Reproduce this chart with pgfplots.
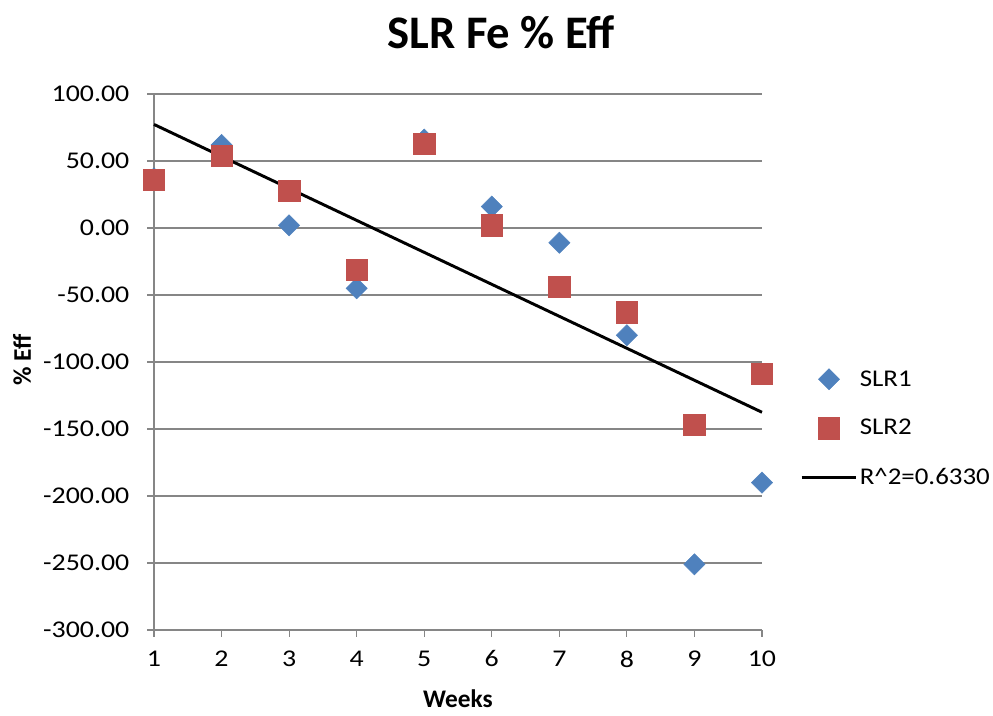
\documentclass[border=0pt]{standalone}
\usepackage{pgfplots}
\pgfplotsset{compat=1.18}
\usepackage{fontspec}
\setmainfont{Carlito}
\newfontfamily\wide[FakeStretch=1.16]{Carlito}
\newfontfamily\wider[FakeStretch=1.12]{Carlito}
\definecolor{sblue}{HTML}{4F81BD}
\definecolor{sred}{HTML}{C0504D}
\definecolor{gridgray}{HTML}{868686}
\pgfplotsset{
  markleg/.style={legend image code/.code={\draw[##1] plot coordinates {(20.5pt,0pt)};}},
  lineleg/.style={legend image code/.code={\draw[##1] (0pt,0pt) -- (41pt,0pt);}},
}
\begin{document}
\begin{tikzpicture}
\path[use as bounding box] (-115.5pt,-63.75pt) rectangle (629.25pt,472.5pt);
\begin{axis}[
  scale only axis, width=456pt, height=402pt,
  xmin=1, xmax=10, ymin=-300, ymax=100,
  xtick={1,...,10}, ytick={-300,-250,...,100},
  axis x line*=bottom, axis y line*=left,
  axis line style={gridgray, line width=1pt, -},
  ymajorgrids, major grid style={gridgray, line width=1pt},
  tick align=outside, major tick length=5pt,
  tick style={gridgray, line width=0.8pt},
  clip=false,
  /pgf/number format/assume math mode=true,
  ticklabel style={font=\wide\fontsize{18}{20}\selectfont},
  xticklabel style={yshift=-7pt},
  yticklabel style={xshift=-10pt, /pgf/number format/.cd, fixed, fixed zerofill, precision=2},
  title={\textbf{SLR Fe \% Eff}},
  title style={at={(0.571,1.1)}, anchor=center, font=\fontsize{35}{40}\selectfont},
  xlabel={\textbf{Weeks}},
  xlabel style={at={(0.5,-0.128)}, anchor=center, font=\fontsize{19}{22}\selectfont},
  ylabel={\textbf{\% Eff}},
  ylabel style={at={(-0.217,0.504)}, anchor=center, font=\fontsize{19}{22}\selectfont},
  legend style={at={(1.0625,0.376)}, anchor=west, draw=none, fill=none,
    font=\wider\fontsize{18}{20}\selectfont, row sep=20.5pt, inner sep=0pt,
    nodes={inner sep=1.5pt}},
  legend cell align=left,
]
\addplot[only marks, mark=square*, mark size=5.6pt, mark options={rotate=45, fill=sblue, draw=sblue}, markleg]
  coordinates {(1,37) (2,62) (3,2) (4,-45) (5,66) (6,16) (7,-11) (8,-80) (9,-251) (10,-190)};
\addlegendentry{SLR1}
\addplot[only marks, mark=square*, mark size=8pt, mark options={fill=sred, draw=sred}, markleg]
  coordinates {(1,36) (2,54) (3,28) (4,-31) (5,63) (6,2) (7,-44) (8,-63) (9,-147) (10,-109)};
\addlegendentry{SLR2}
\addplot[black, line width=2.2pt, no marks, lineleg]
  coordinates {(1,77.3) (10,-137.5)};
\addlegendentry{R\^{}2=0.6330}
\end{axis}
\end{tikzpicture}
\end{document}
